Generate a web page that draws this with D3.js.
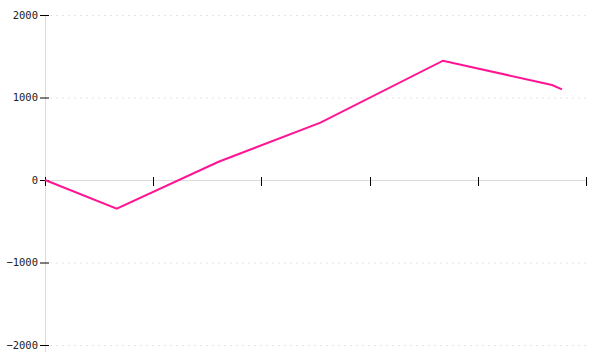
<!DOCTYPE html>
<html><head><meta charset="utf-8">
<script src="https://cdn.jsdelivr.net/npm/d3@7"></script>
<style>body{margin:0;background:#fff}</style>
</head><body><svg id="c" width="600" height="360"></svg>
<script>
const xValues = [0, 0.663, 1.599, 2.546, 3.678, 4.686, 4.778];
const yValues = [0, -348, 218, 695, 1446, 1152, 1099];
const xTicks = [0, 1, 2, 3, 4, 5];
const yTicks = [-2000, -1000, 0, 1000, 2000];

const svg = d3.select("#c");
const x = d3.scaleLinear().domain([0, 5]).range([45, 586]);
const y = d3.scaleLinear().domain([-2000, 2000]).range([345, 15]);

// gridlines
svg.append("g").selectAll("line").data(yTicks.filter(d => d !== 0)).join("line")
  .attr("x1", 50).attr("x2", 586)
  .attr("y1", d => y(d) + 0.5).attr("y2", d => y(d) + 0.5)
  .attr("stroke", "#e4e4e4").attr("stroke-dasharray", "2,4");

// y axis line
svg.append("line").attr("x1", 45.5).attr("x2", 45.5).attr("y1", 15).attr("y2", 352)
  .attr("stroke", "#dcdcdc");
// x axis line
svg.append("line").attr("x1", 45).attr("x2", 586).attr("y1", y(0) + 0.5).attr("y2", y(0) + 0.5)
  .attr("stroke", "#dcdcdc");

// y ticks
const yg = svg.append("g");
yg.selectAll("line").data(yTicks).join("line")
  .attr("x1", 40).attr("x2", 49)
  .attr("y1", d => y(d) + 0.5).attr("y2", d => y(d) + 0.5)
  .attr("stroke", "#000");
yg.selectAll("text").data(yTicks).join("text")
  .attr("x", 38).attr("y", d => y(d)).attr("dy", "0.35em")
  .attr("text-anchor", "end")
  .attr("font-family", "DejaVu Sans Mono").attr("font-size", 10.5).attr("fill", "#222")
  .text(d => d3.format("")(d).replace("-", "\u2212"));

// x ticks
svg.append("g").selectAll("line").data(xTicks).join("line")
  .attr("x1", d => Math.round(x(d)) + 0.5).attr("x2", d => Math.round(x(d)) + 0.5)
  .attr("y1", y(0) - 3).attr("y2", y(0) + 6)
  .attr("stroke", "#000");

// line
const data = xValues.map((v, i) => [v, yValues[i]]);
svg.append("path").datum(data)
  .attr("fill", "none").attr("stroke", "#ff1493").attr("stroke-width", 2)
  .attr("d", d3.line().x(d => x(d[0])).y(d => y(d[1])));
</script></body></html>
